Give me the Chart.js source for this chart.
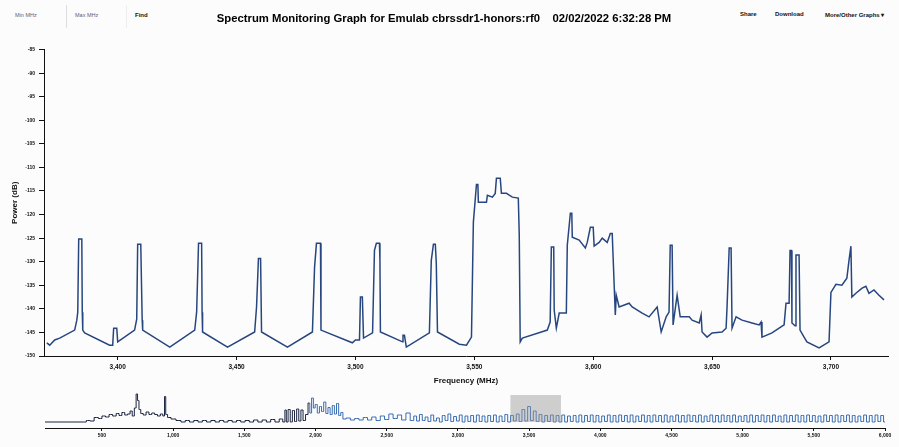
<!DOCTYPE html>
<html>
<head>
<meta charset="utf-8">
<title>Spectrum Monitoring Graph</title>
<script src="https://cdn.jsdelivr.net/npm/chart.js@4.4.1/dist/chart.umd.min.js"></script>
<style>
  body { margin: 0; background: #fcfcfc; font-family: "Liberation Sans", Arial, sans-serif; }
  #page { position: relative; width: 899px; height: 447px; overflow: hidden; background: #fcfcfc; }
  .campo { position: absolute; top: 5px; height: 23px; line-height: 21px; font-size: 5.5px; color: #56627e; box-sizing: border-box; }
  .botao { position: absolute; top: 11px; font-size: 6px; font-weight: bold; color: #111; white-space: nowrap; }
  canvas { position: absolute; left: 0; }
</style>
</head>
<body>
<div id="page">
  <div class="campo" style="left:5px;width:62px;padding-left:10px;border-right:1px solid #ddd;">Min MHz</div>
  <div class="campo" style="left:67px;width:60px;padding-left:8px;border-right:1px solid #eee;">Max MHz</div>
  <div class="botao" style="left:135px;top:12px;">Find</div>
  <div class="botao" style="left:740px;">Share</div>
  <div class="botao" style="left:775px;">Download</div>
  <div class="botao" style="left:825px;">More/Other Graphs ▾</div>
  <canvas id="spectrumChart" width="899" height="392" style="top:0"></canvas>
  <canvas id="overviewChart" width="899" height="59" style="top:388px"></canvas>
</div>
<script>
// Visible window of the main graph (MHz)
const mainMin = 3369;
const mainMax = 3724;

// Tick labels of the overview axis (MHz)
const ovTicks = [500, 1000, 1500, 2000, 2500, 3000, 3500, 4000, 4500, 5000, 5500, 6000];

// Main trace: frequency (MHz) and power (dB)
const mainFreq = [
  3370.2, 3371.4, 3373.5, 3375.6, 3381.9, 3382.8, 3383.2, 3383.6, 3384.9, 3385.1,
  3385.3, 3386.1, 3396.6, 3397.9, 3398.3, 3399.6, 3400.0, 3407.1, 3408.0, 3408.4,
  3409.7, 3410.3, 3410.5, 3421.9, 3432.4, 3433.2, 3434.0, 3435.3, 3435.5, 3435.7,
  3446.2, 3457.6, 3458.4, 3459.2, 3460.1, 3460.5, 3471.4, 3481.9, 3482.8, 3483.6,
  3485.3, 3485.5, 3498.7, 3500.0, 3501.7, 3502.1, 3502.9, 3503.4, 3507.2, 3508.0,
  3508.8, 3510.1, 3510.3, 3510.5, 3519.8, 3520.0, 3520.6, 3521.4, 3531.1, 3531.9,
  3532.8, 3533.6, 3534.0, 3534.5, 3543.7, 3546.7, 3548.8, 3549.6, 3550.9, 3551.5,
  3551.7, 3555.1, 3555.5, 3557.6, 3558.8, 3559.3, 3560.9, 3561.4, 3563.5, 3564.7,
  3566.0, 3568.5, 3568.9, 3569.3, 3570.2, 3578.2, 3580.7, 3581.9, 3582.4, 3583.4,
  3583.6, 3584.5, 3585.7, 3588.7, 3589.1, 3590.4, 3591.0, 3591.2, 3594.1, 3596.7,
  3597.5, 3598.8, 3600.0, 3600.4, 3602.5, 3603.8, 3605.9, 3607.2, 3608.0, 3608.4,
  3609.3, 3609.7, 3610.9, 3615.1, 3616.4, 3620.6, 3623.5, 3626.9, 3628.6, 3630.7,
  3631.9, 3632.4, 3633.2, 3633.6, 3635.3, 3636.6, 3640.4, 3641.6, 3644.6, 3645.4,
  3645.8, 3647.9, 3650.0, 3654.2, 3655.9, 3656.3, 3657.2, 3658.0, 3658.4, 3660.1,
  3662.6, 3666.8, 3669.8, 3670.6, 3671.0, 3675.2, 3678.2, 3680.3, 3681.1, 3682.4,
  3682.8, 3683.4, 3683.6, 3684.9, 3685.3, 3686.6, 3687.0, 3688.7, 3689.9, 3695.0,
  3699.2, 3700.0, 3702.1, 3704.6, 3706.7, 3707.6, 3708.4, 3708.8, 3710.5, 3713.1,
  3714.7, 3716.0, 3718.1, 3720.2, 3722.3
];
const mainPower = [
  -147.2, -147.7, -146.6, -146.2, -144.5, -142.4, -140.7, -125.2, -125.2, -140.7,
  -144.5, -145.1, -147.7, -147.7, -144.1, -144.1, -147.0, -144.5, -142.2, -126.3,
  -126.3, -142.4, -144.5, -148.1, -144.5, -140.7, -126.1, -126.1, -140.7, -144.9,
  -148.1, -144.9, -139.6, -129.3, -129.3, -144.9, -148.1, -144.9, -131.2, -126.1,
  -126.1, -144.5, -147.2, -146.6, -146.6, -137.5, -137.5, -146.2, -145.1, -127.6,
  -126.1, -126.1, -129.7, -144.9, -147.0, -145.6, -145.6, -148.1, -145.1, -129.7,
  -126.3, -126.3, -130.3, -144.9, -147.5, -147.7, -146.0, -121.6, -113.6, -113.6,
  -117.4, -117.4, -115.9, -116.3, -115.5, -112.3, -112.3, -115.5, -115.5, -115.9,
  -116.3, -116.5, -124.4, -147.0, -146.2, -144.9, -144.5, -142.8, -126.9, -126.9,
  -140.3, -144.1, -140.9, -140.9, -126.5, -119.7, -119.7, -124.8, -125.4, -127.1,
  -125.9, -122.7, -122.7, -126.7, -125.9, -125.0, -125.9, -124.0, -124.0, -129.3,
  -141.3, -137.1, -139.6, -138.8, -139.6, -140.9, -141.7, -139.6, -144.9, -141.7,
  -140.7, -126.5, -126.5, -143.4, -137.1, -141.7, -141.7, -142.4, -143.0, -141.3,
  -144.9, -146.0, -145.1, -144.9, -144.1, -139.6, -127.1, -127.1, -144.1, -141.7,
  -142.4, -143.0, -143.4, -142.8, -146.0, -145.1, -144.1, -143.4, -138.8, -138.8,
  -127.6, -127.6, -143.0, -143.6, -128.6, -128.6, -144.5, -146.0, -147.0, -148.3,
  -147.0, -136.5, -134.8, -135.0, -133.5, -129.7, -126.7, -137.5, -136.7, -135.6,
  -135.2, -136.7, -136.0, -137.1, -138.1
];

// Overview (navigator) trace over the whole band
const ovFreq = [
  100, 380, 400, 430, 460, 490, 510, 540, 560, 590,
  610, 630, 650, 670, 690, 705, 720, 735, 745, 755,
  765, 780, 800, 820, 840, 860, 880, 900, 920, 935,
  944, 952, 970, 1000, 1040, 1070, 1100, 1130, 1160, 1190,
  1220, 1250, 1280, 1310, 1340, 1370, 1400, 1430, 1460, 1490,
  1520, 1550, 1580, 1610, 1640, 1670, 1700, 1730, 1760, 1780,
  1790, 1800, 1815, 1830, 1845, 1860, 1875, 1890, 1905, 1920,
  1940, 1955, 1965, 1980, 1990, 2005, 2020, 2035, 2050, 2065,
  2080, 2095, 2110, 2125, 2140, 2155, 2170, 2185, 2200, 2230,
  2260, 2290, 2320, 2350, 2380, 2410, 2440, 2470, 2500, 2530,
  2560, 2590, 2620, 2650, 2680,
  2700, 2720, 2740, 2760, 2780, 2800, 2820, 2840, 2860, 2880,
  2900, 2920, 2940, 2960, 2980, 3000, 3020, 3040, 3060, 3080,
  3100, 3120, 3140, 3160, 3180, 3200, 3220, 3240, 3260, 3280,
  3300, 3320, 3340, 3360, 3380, 3400, 3420, 3440, 3460, 3480,
  3500, 3520, 3540, 3560, 3580, 3600, 3620, 3640, 3660, 3680,
  3700, 3720, 3740, 3760, 3780, 3800, 3820, 3840, 3860, 3880,
  3900, 3920, 3940, 3960, 3980, 4000, 4020, 4040, 4060, 4080,
  4100, 4120, 4140, 4160, 4180, 4200, 4220, 4240, 4260, 4280,
  4300, 4320, 4340, 4360, 4380, 4400, 4420, 4440, 4460, 4480,
  4500, 4520, 4540, 4560, 4580, 4600, 4620, 4640, 4660, 4680,
  4700, 4720, 4740, 4760, 4780, 4800, 4820, 4840, 4860, 4880,
  4900, 4920, 4940, 4960, 4980, 5000, 5020, 5040, 5060, 5080,
  5100, 5120, 5140, 5160, 5180, 5200, 5220, 5240, 5260, 5280,
  5300, 5320, 5340, 5360, 5380, 5400, 5420, 5440, 5460, 5480,
  5500, 5520, 5540, 5560, 5580, 5600, 5620, 5640, 5660, 5680,
  5700, 5720, 5740, 5760, 5780, 5800, 5820, 5840, 5860, 5880,
  5900, 5920, 5940, 5960, 5980, 6000
];
const ovPower = [
  -143, -143, -140, -141, -134, -136, -131, -133, -128, -131,
  -126, -130, -124, -129, -127, -121, -131, -115, -87, -100,
  -118, -126, -129, -123, -128, -125, -128, -131, -127, -131,
  -92, -128, -134, -137, -140, -143, -140, -143, -140, -143,
  -140, -143, -140, -143, -140, -143, -140, -143, -140, -143,
  -140, -143, -139, -143, -139, -143, -138, -143, -137, -143,
  -119, -143, -118, -143, -120, -142, -117, -141, -119, -140,
  -128, -105, -125, -95, -115, -108, -125, -112, -122, -103,
  -126, -114, -128, -110, -127, -106, -130, -124, -137, -135,
  -139, -136, -139, -134, -139, -133, -140, -131, -138, -127,
  -136, -129, -139, -125, -140,
  -131, -141, -128, -140, -133, -142, -129, -141, -135, -143,
  -130, -140, -127, -142, -132, -141, -129, -143, -131, -142,
  -130, -143, -129, -142, -131, -143, -130, -142, -129, -143,
  -131, -142, -128, -143, -130, -141, -127, -142, -118, -141,
  -112, -140, -121, -142, -128, -143, -130, -142, -129, -143,
  -130, -143, -129, -143, -131, -142, -130, -143, -129, -143,
  -130, -142, -129, -143, -130, -143, -131, -142, -129, -143,
  -130, -143, -129, -142, -130, -143, -129, -143, -131, -142,
  -129, -143, -130, -143, -129, -142, -130, -143, -129, -143,
  -131, -142, -129, -143, -130, -143, -129, -142, -130, -143,
  -129, -143, -131, -142, -129, -143, -130, -143, -129, -142,
  -130, -143, -129, -143, -131, -142, -130, -143, -129, -143,
  -130, -142, -129, -143, -130, -143, -129, -142, -131, -143,
  -129, -143, -130, -142, -129, -143, -130, -143, -129, -142,
  -130, -143, -131, -143, -129, -142, -130, -143, -129, -143,
  -130, -142, -129, -143, -130, -143, -131, -142, -129, -143,
  -130, -143, -129, -142, -130, -143
];

const fonte = '"Liberation Sans", Arial, sans-serif';
Chart.defaults.font.family = fonte;
Chart.defaults.color = '#111';

// Main spectrum graph
new Chart(document.getElementById('spectrumChart'), {
  type: 'line',
  data: {
    datasets: [{
      data: mainFreq.map((f, i) => ({ x: f, y: mainPower[i] })),
      borderColor: '#27467f',
      borderWidth: 1.5,
      pointRadius: 0,
      tension: 0,
      fill: false,
    }],
  },
  options: {
    responsive: false,
    animation: false,
    layout: { padding: { left: 0, right: 11, top: 0, bottom: 0 } },
    plugins: {
      legend: { display: false },
      tooltip: { enabled: false },
      title: {
        display: true,
        text: 'Spectrum Monitoring Graph for Emulab cbrssdr1-honors:rf0    02/02/2022 6:32:28 PM',
        font: { size: 11.3, weight: 'bold' },
        color: '#000',
        padding: { top: 12, bottom: 24 },
      },
    },
    scales: {
      x: {
        type: 'linear',
        min: mainMin,
        max: mainMax,
        afterFit: (s) => { s.height = 36; },
        border: { color: '#111', width: 1 },
        grid: { drawOnChartArea: false, color: '#111', tickLength: 4 },
        ticks: { stepSize: 50, includeBounds: false, padding: 3, maxRotation: 0, font: { size: 6.5, weight: 'bold' } },
        title: { display: true, text: 'Frequency (MHz)', font: { size: 8, weight: 'bold' }, padding: { top: 0, bottom: 6 } },
      },
      y: {
        min: -150,
        max: -85,
        afterFit: (s) => { s.width = 44; },
        border: { color: '#111', width: 1 },
        grid: { drawOnChartArea: false, color: '#111', tickLength: 5 },
        ticks: { stepSize: 5, padding: 4, font: { size: 5, weight: 'bold' } },
        title: { display: true, text: 'Power (dB)', font: { size: 8, weight: 'bold' }, padding: { top: 10, bottom: 0 } },
      },
    },
  },
});

// Grey mask showing the zoomed window on the navigator
const mascara = {
  id: 'mascara',
  afterDatasetsDraw(chart) {
    const { ctx, chartArea } = chart;
    const x0 = chart.scales.x.getPixelForValue(mainMin);
    const x1 = chart.scales.x.getPixelForValue(mainMax);
    ctx.save();
    ctx.fillStyle = 'rgba(150, 150, 150, 0.45)';
    ctx.fillRect(x0, chartArea.top + 2, x1 - x0, chartArea.bottom - chartArea.top - 8);
    ctx.restore();
  },
};

// Overview graph across the whole band
new Chart(document.getElementById('overviewChart'), {
  type: 'line',
  data: {
    datasets: [{
      data: ovFreq.map((f, i) => ({ x: f, y: ovPower[i] })),
      borderWidth: 1,
      pointRadius: 0,
      stepped: 'middle',
      segment: {
        borderColor: (c) => (c.p0.parsed.x < 1950 ? '#1c2540' : '#3a6db3'),
      },
    }],
  },
  plugins: [mascara],
  options: {
    responsive: false,
    animation: false,
    layout: { padding: { left: 45, right: 14, top: 5, bottom: 0 } },
    plugins: { legend: { display: false }, tooltip: { enabled: false } },
    scales: {
      x: {
        type: 'linear',
        min: 100,
        max: 6000,
        afterFit: (s) => { s.height = 19; },
        // Fixed tick values, Chart.js would otherwise spread them evenly from min to max
        afterBuildTicks: (s) => { s.ticks = ovTicks.map((v) => ({ value: v })); },
        border: { color: '#111', width: 1 },
        grid: { drawOnChartArea: false, color: '#111', tickLength: 3 },
        ticks: { padding: 2, maxRotation: 0, autoSkip: false, font: { size: 5, weight: 'bold' } },
      },
      y: { display: false, min: -155, max: -85 },
    },
  },
});
</script>
</body>
</html>
